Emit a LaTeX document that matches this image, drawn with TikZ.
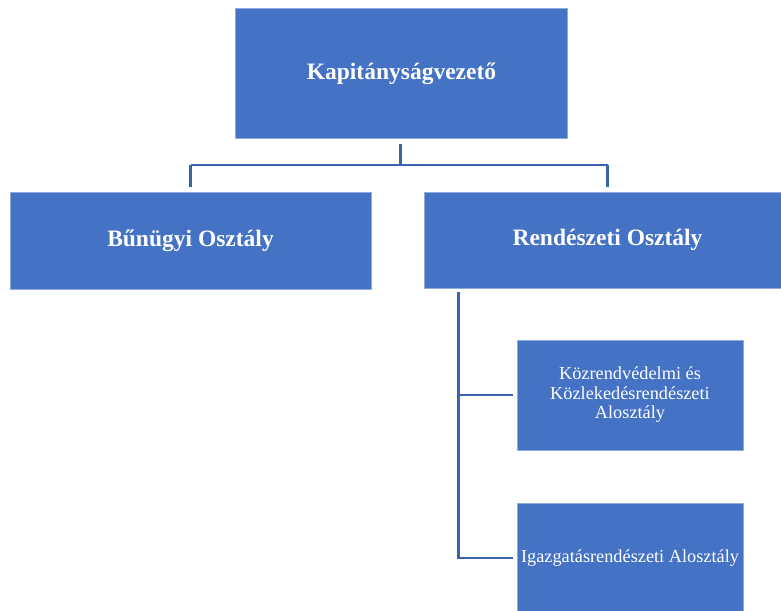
\documentclass[tikz,border=0pt]{standalone}
\usepackage{fontspec}
\setmainfont{Liberation Serif}
\definecolor{boxblue}{HTML}{4472C4}
\definecolor{boxedge}{HTML}{8EA9DB}
\definecolor{linkblue}{HTML}{3A62AE}
\begin{document}
\begin{tikzpicture}[x=1pt,y=-1pt,
  unit/.style={draw=boxedge,line width=0.8pt,fill=boxblue,text=white,
    rectangle,inner sep=0pt,align=center},
  mainlabel/.style={font=\fontsize{23.5}{28}\selectfont\bfseries},
  sublabel/.style={font=\fontsize{18.3}{19.6}\selectfont},
  link/.style={draw=linkblue,line width=2.6pt}]
\useasboundingbox (0,0) rectangle (781,610);
\begin{scope}
\clip (0,0) rectangle (781,610);
% head of the unit
\node[unit,mainlabel,minimum width=332,minimum height=130] (head) at (401.5,73.5) {Kapitányságvezető};
% departments
\node[unit,mainlabel,minimum width=361,minimum height=97] (crime) at (190.5,240.5) {Bűnügyi Osztály};
\node[unit,mainlabel,minimum width=367,minimum height=96] (order) at (607.5,240) {Rendészeti Osztály};
% sub-departments
\node[unit,sublabel,minimum width=226,minimum height=110] (public) at (630,395) {Közrendvédelmi és\\Közlekedésrendészeti\\Alosztály};
\node[unit,sublabel,minimum width=226,minimum height=110] (admin) at (630,558) {Igazgatásrendészeti Alosztály};
% connectors
\coordinate (hub) at (400.5,165);
\draw[link] ([yshift=-5]head.south -| hub) -- (hub);
\draw[link] (crime.north |- hub) -- (order.north |- hub);
\draw[link] (crime.north |- hub) -- ([yshift=5]crime.north);
\draw[link] (order.north |- hub) -- ([yshift=5]order.north);
\coordinate (spine) at (458.5,292);
\draw[link] (spine) -- (spine |- admin.center) -- ([xshift=-4]admin.west);
\draw[link] (spine |- public.center) -- ([xshift=-4]public.west);
\end{scope}
\end{tikzpicture}
\end{document}
